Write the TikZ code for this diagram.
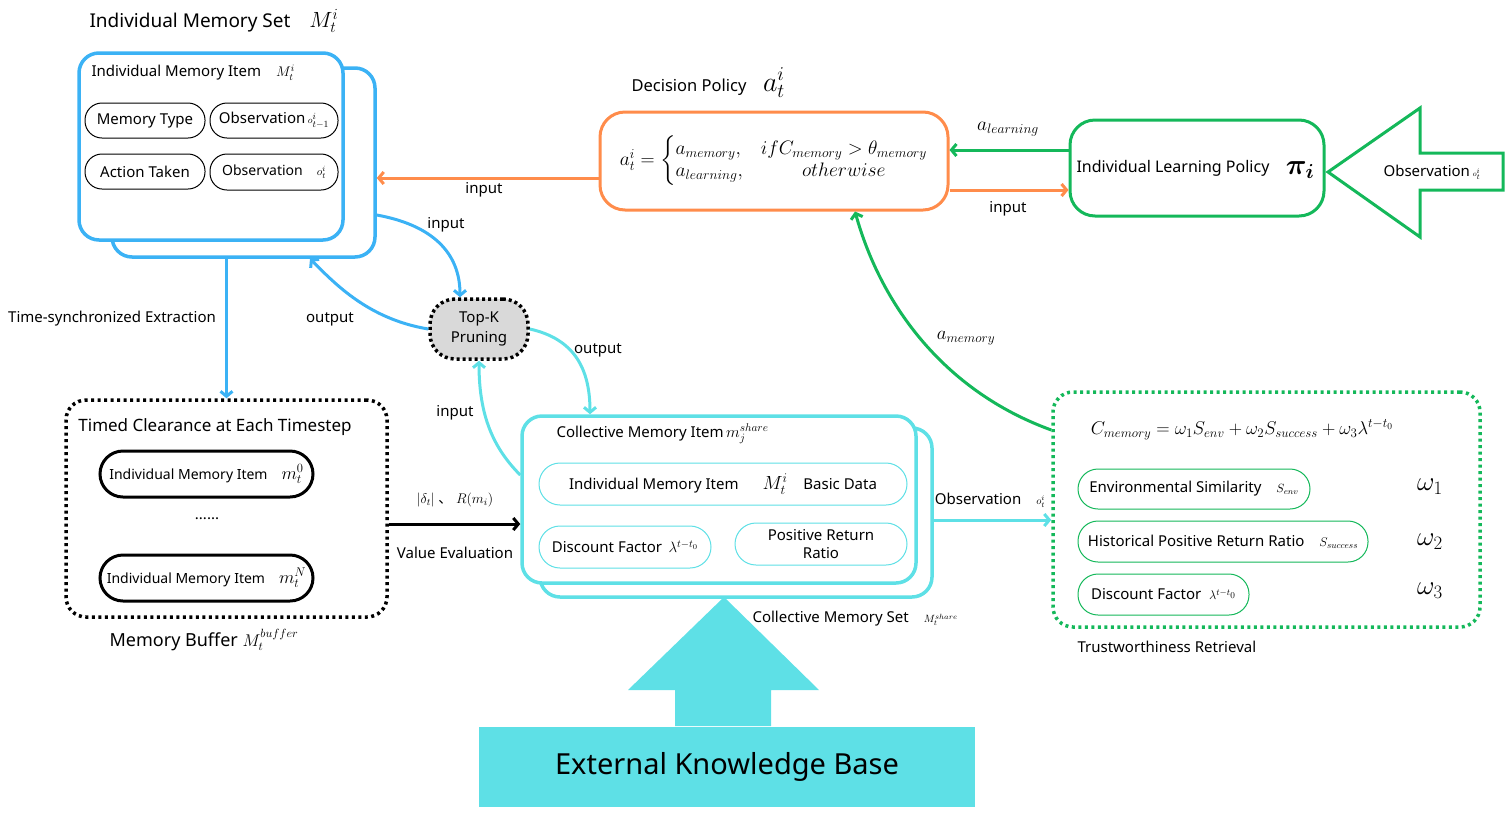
\RequirePackage{fix-cm}
\documentclass[tikz,border=0pt]{standalone}
\usepackage{amsmath}
\usepackage{fontspec}
\setmainfont{Noto Sans}
\newfontfamily\cjk{Noto Sans CJK SC}
\usetikzlibrary{arrows.meta}
\definecolor{memblue}{HTML}{3BB2F5}
\definecolor{decorange}{HTML}{FF8C4B}
\definecolor{polgreen}{HTML}{14B85A}
\definecolor{sharecyan}{HTML}{5EE0E6}
\definecolor{prunegray}{HTML}{D9D9D9}
\newcommand\msz[2]{{\fontsize{#1}{#1}\selectfont$#2$}}
\begin{document}
\begin{tikzpicture}[x=1pt, y=-1pt,
		box/.style={draw, rounded corners=20pt, line width=3.5pt, fill=white},
		pill/.style={draw, rounded corners=17pt, fill=white, inner sep=0pt, align=center},
		dotbox/.style={draw, rounded corners=20pt, line width=3.5pt, dash pattern=on 3pt off 3.5pt},
		con/.style={line width=3pt, -{Straight Barb[length=5pt, width=12pt]}},
		txt/.style={font=\fontsize{15}{18}\selectfont},
		big/.style={font=\fontsize{17}{20}\selectfont}]
	\useasboundingbox (0, 0) rectangle (1511, 820);

	% individual memory set
	\node[anchor=west, font=\fontsize{19}{22}\selectfont] (setlbl) at (86, 21) {Individual Memory Set\quad \msz{22}{M_t^i}};
	\node[box, draw=memblue, minimum width=263, minimum height=189] (imback) at (243.5, 162.5) {};
	\node[box, draw=memblue, minimum width=264, minimum height=187] (imfront) at (211, 146.5) {};
	\node[txt, anchor=west] (imtitle) at (88, 73) {Individual Memory Item\quad \msz{14}{M_t^i}};
	\node[pill, txt, draw=black, line width=1pt, minimum width=120, minimum height=35] (memtype) at (145, 120.5) {Memory Type};
	\node[pill, txt, draw=black, line width=1pt, minimum width=128, minimum height=35] (obsprev) at (274, 120.5) {Observation\,\msz{19}{\scriptscriptstyle o_{t-1}^i}};
	\node[pill, txt, draw=black, line width=1pt, minimum width=120, minimum height=35] (action) at (145, 171.5) {Action Taken};
	\node[pill, draw=black, line width=1pt, minimum width=128, minimum height=36, font=\fontsize{14}{17}\selectfont] (obsnow) at (274, 172) {Observation\quad \msz{16}{\scriptstyle o_t^i}};

	% decision policy
	\node[anchor=west, font=\fontsize{16.5}{19}\selectfont] (declbl) at (628, 83) {Decision Policy\quad \msz{28}{a_t^i}};
	\node[box, draw=decorange, line width=3pt, rounded corners=25pt, minimum width=348, minimum height=98, font=\fontsize{19.5}{22}\selectfont] (dec) at (774, 161)
		{$a_t^i=\left\{\begin{array}{@{}l@{\hspace{18pt}}c@{}} a_{memory}, & ifC_{memory}>\theta_{memory}\\ a_{learning}, & otherwise\end{array}\right.$};

	% individual learning policy
	\node[box, draw=polgreen, line width=3pt, rounded corners=25pt, minimum width=254, minimum height=96] (ilp) at (1197, 168) {};
	\node[txt, anchor=west, font=\fontsize{16}{19}\selectfont] (ilptxt) at (1073, 168) {Individual Learning Policy};
	\node[font=\fontsize{29}{30}\selectfont] (pi) at (1300, 170) {$\boldsymbol{\pi_i}$};
	\draw[polgreen, line width=3pt, line join=miter] (1328, 172) -- (1420, 108) -- (1420, 153) -- (1503, 153) -- (1503, 190) -- (1420, 190) -- (1420, 237) -- cycle;
	\node[txt] (obsin) at (1432, 172) {Observation\,$\scriptscriptstyle o_t^i$};

	% pruning
	\node[draw, fill=prunegray, rounded corners=25pt, line width=3.5pt, dash pattern=on 3pt off 3pt, minimum width=98, minimum height=60, align=center, txt, font=\fontsize{15}{20}\selectfont] (topk) at (479, 329) {Top-K\\Pruning};

	% memory buffer
	\node[dotbox, draw=black, minimum width=321, minimum height=217] (buffer) at (226.5, 508.5) {};
	\node[big] (buftitle) at (215, 427) {Timed Clearance at Each Timestep};
	\node[pill, draw=black, line width=3pt, rounded corners=23pt, minimum width=213, minimum height=46, font=\fontsize{14}{17}\selectfont] (item0) at (206.5, 474) {Individual Memory Item\quad \msz{18}{m_t^0}};
	\node[txt] (dots) at (207, 519) {......};
	\node[pill, draw=black, line width=3pt, rounded corners=23pt, minimum width=213, minimum height=46, font=\fontsize{14}{17}\selectfont] (itemN) at (206.5, 578) {Individual Memory Item\quad \msz{18}{m_t^N}};
	\node[font=\fontsize{18}{21}\selectfont] (buflbl) at (204, 640) {Memory Buffer \msz{17}{M_t^{buffer}}};

	% collective memory set
	\node[box, draw=sharecyan, line width=3.5pt, minimum width=392, minimum height=169] (collback) at (736, 512.5) {};
	\node[box, draw=sharecyan, line width=3.5pt, minimum width=394, minimum height=167] (collfront) at (719, 499.5) {};
	\node[txt, anchor=west] (colltitle) at (553, 434) {Collective Memory Item\,\msz{16}{m_j^{share}}};
	\node[pill, txt, draw=sharecyan, line width=1pt, rounded corners=21pt, minimum width=368, minimum height=42] (basic) at (723, 484) {Individual Memory Item\hspace{24pt}\msz{19}{M_t^i}\hspace{16pt}Basic Data};
	\node[pill, txt, draw=sharecyan, line width=1pt, rounded corners=21pt, minimum width=172, minimum height=42] (cdisc) at (625, 547) {Discount Factor\,\ $\lambda^{t-t_0}$};
	\node[pill, txt, draw=sharecyan, line width=1pt, rounded corners=21pt, minimum width=172, minimum height=42] (posret) at (821, 544) {Positive Return\\Ratio};
	\node[txt, anchor=west] (colllbl) at (749, 619) {Collective Memory Set\quad $\scriptstyle M_t^{share}$};

	% external knowledge base
	\fill[sharecyan] (724, 597) -- (819, 690) -- (771, 690) -- (771, 726) -- (675, 726) -- (675, 690) -- (628, 690) -- cycle;
	\node[fill=sharecyan, minimum width=496, minimum height=80, font=\fontsize{29}{34}\selectfont] (ekb) at (727, 767) {External Knowledge Base};

	% trustworthiness retrieval
	\node[dotbox, draw=polgreen, minimum width=427, minimum height=235] (trust) at (1266.5, 509.5) {};
	\node[font=\fontsize{18.5}{22}\selectfont] (cform) at (1242, 430) {$C_{memory}=\omega_1S_{env}+\omega_2S_{success}+\omega_3\lambda^{t-t_0}$};
	\node[pill, txt, draw=polgreen, line width=1pt, rounded corners=20pt, minimum width=232, minimum height=40] (env) at (1194, 489) {Environmental Similarity\quad \msz{17}{\scriptstyle S_{env}}};
	\node[pill, txt, draw=polgreen, line width=1pt, rounded corners=20pt, minimum width=290, minimum height=41] (hist) at (1223, 541.5) {Historical Positive Return Ratio\quad \msz{18}{\scriptstyle S_{success}}};
	\node[pill, txt, draw=polgreen, line width=1pt, rounded corners=20pt, minimum width=171, minimum height=41] (tdisc) at (1163.5, 594.5) {Discount Factor\ \ \msz{18}{\scriptstyle\lambda^{t-t_0}}};
	\node[font=\fontsize{27}{28}\selectfont] (w1) at (1430, 487) {$\omega_1$};
	\node[font=\fontsize{27}{28}\selectfont] (w2) at (1430, 542) {$\omega_2$};
	\node[font=\fontsize{27}{28}\selectfont] (w3) at (1430, 591) {$\omega_3$};
	\node[txt, anchor=west] (trustlbl) at (1074, 647) {Trustworthiness Retrieval};

	% connectors
	\draw[con, polgreen] ([yshift=18pt]ilp.west) -- ([yshift=11pt]dec.east);
	\node[font=\fontsize{19.5}{22}\selectfont] (alearn) at (1008, 129) {$a_{learning}$};
	\draw[con, decorange] ([yshift=-29pt]dec.east) -- ([yshift=-22pt]ilp.west);
	\node[txt] (in1) at (1008, 209) {input};
	\draw[con, decorange] ([yshift=-17pt]dec.west) -- ([yshift=-15.5pt]imback.east);
	\node[txt] (in2) at (484, 190) {input};
	\draw[con, memblue] (buffer.north |- imback.south) -- (buffer.north);
	\node[txt] (extract) at (112, 319) {Time-synchronized Extraction};
	\draw[con, memblue] ([yshift=-52.5pt]imback.east) .. controls +(55, 10) and +(0, -45) .. ([xshift=-19pt]topk.north);
	\node[txt] (in3) at (446, 225) {input};
	\draw[con, memblue] (topk.west) .. controls +(-60, -10) and +(25, 25) .. ([xshift=66.5pt]imback.south);
	\node[txt] (out1) at (330, 319) {output};
	\draw[con, sharecyan] (topk.east) .. controls +(45, 10) and +(0, -45) .. ([xshift=-129pt]collfront.north);
	\node[txt] (out2) at (598, 350) {output};
	\draw[con, sharecyan] ([yshift=24.5pt]collfront.west) .. controls +(-30, -30) and +(0, 50) .. (topk.south);
	\node[txt] (in4) at (455, 413) {input};
	\draw[con, black] ([yshift=-15.5pt]buffer.east) -- ([yshift=-24.5pt]collfront.west);
	\node[font=\fontsize{14}{16}\selectfont] (delta) at (455, 500) {$|\delta_t|$ {\cjk 、} $R(m_i)$};
	\node[txt] (valeval) at (455, 553) {Value Evaluation};
	\draw[con, sharecyan] ([yshift=-7.5pt]collback.east) -- ([yshift=-10.5pt]trust.west);
	\node[txt] (obsout) at (990, 500) {Observation\quad $\scriptstyle o_t^i$};
	\draw[con, polgreen] ([yshift=79.5pt]trust.west) .. controls +(-110, -40) and +(25, 90) .. ([xshift=81pt]dec.south);
	\node[font=\fontsize{19}{22}\selectfont] (amem) at (966, 338) {$a_{memory}$};

\end{tikzpicture}
\end{document}
